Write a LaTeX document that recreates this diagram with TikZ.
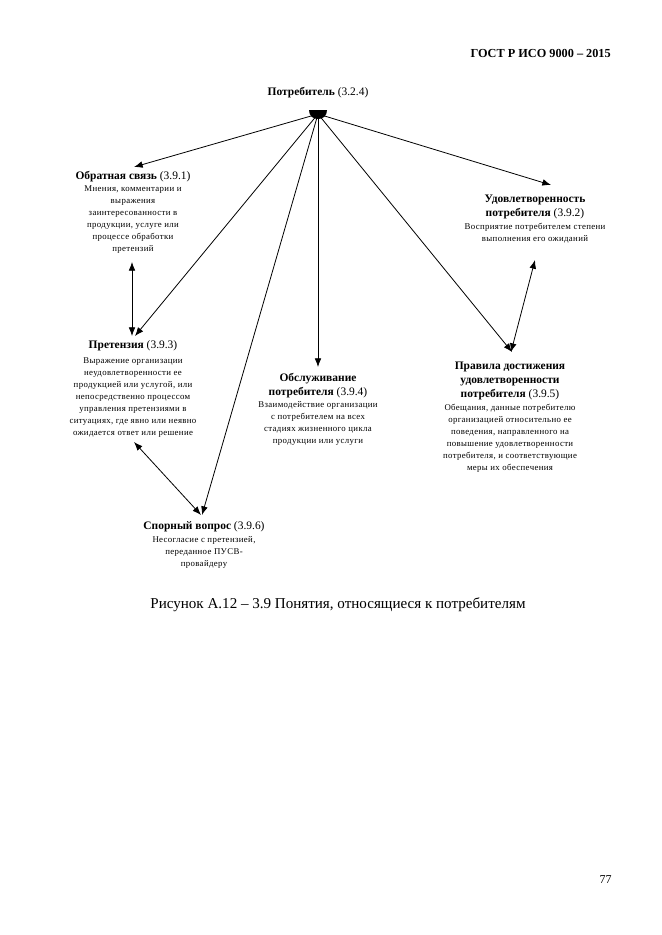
\documentclass[tikz,border=0pt]{standalone}
\usepackage{fontspec}
\setmainfont{Liberation Serif}
\usetikzlibrary{arrows.meta}
\begin{document}
\begin{tikzpicture}[x=0.75pt,y=-0.75pt,
  ttl/.style={anchor=north,inner sep=0,align=center,font=\fontsize{8.6}{10.5}\selectfont},
  dsc/.style={anchor=north,inner sep=0,align=center,font=\fontsize{6.6}{9}\selectfont\addfontfeatures{LetterSpace=4}},
  arr/.style={-{Latex[length=6.5pt,width=5pt]},line width=0.6pt},
  darr/.style={{Latex[length=6.5pt,width=5pt]}-{Latex[length=6.5pt,width=5pt]},line width=0.6pt}]
\fill[white] (0,0) rectangle (661,935);
\useasboundingbox (0,0) rectangle (661,935);

% header, caption, page number
\node[anchor=east,inner sep=0,font=\fontsize{9.2}{11}\selectfont\bfseries] (hdr) at (611,53) {ГОСТ Р ИСО 9000 – 2015};
\node[inner sep=0,font=\fontsize{11.3}{13}\selectfont] (cap) at (338,605) {Рисунок А.12 – 3.9 Понятия, относящиеся к потребителям};
\node[anchor=east,inner sep=0,font=\fontsize{9}{11}\selectfont] (pg) at (612,880) {77};

% concept titles and descriptions
\node[ttl] (t0) at (318,87) {\textbf{Потребитель} (3.2.4)};

\node[ttl] (t1) at (133,171) {\textbf{Обратная связь} (3.9.1)};
\node[dsc] (d1) at (133,185) {Мнения, комментарии и\\выражения\\заинтересованности в\\продукции, услуге или\\процессе обработки\\претензий};

\node[ttl] (t2) at (535,195) {\textbf{Удовлетворенность}\\\textbf{потребителя} (3.9.2)};
\node[dsc] (d2) at (535,223) {Восприятие потребителем степени\\выполнения его ожиданий};

\node[ttl] (t3) at (133,340) {\textbf{Претензия} (3.9.3)};
\node[dsc] (d3) at (133,357) {Выражение организации\\неудовлетворенности ее\\продукцией или услугой, или\\непосредственно процессом\\управления претензиями в\\ситуациях, где явно или неявно\\ожидается ответ или решение};

\node[ttl] (t4) at (318,373) {\textbf{Обслуживание}\\\textbf{потребителя} (3.9.4)};
\node[dsc] (d4) at (318,401) {Взаимодействие организации\\с потребителем на всех\\стадиях жизненного цикла\\продукции или услуги};

\node[ttl] (t5) at (510,362) {\textbf{Правила достижения}\\\textbf{удовлетворенности}\\\textbf{потребителя} (3.9.5)};
\node[dsc] (d5) at (510,404) {Обещания, данные потребителю\\организацией относительно ее\\поведения, направленного на\\повышение удовлетворенности\\потребителя, и соответствующие\\меры их обеспечения};

\node[ttl] (t6) at (204,521) {\textbf{Спорный вопрос} (3.9.6)};
\node[dsc] (d6) at (204,536) {Несогласие с претензией,\\переданное ПУСВ-\\провайдеру};

% connector end points
\coordinate (hub) at (318,114);
\coordinate (e1) at (134,167);
\coordinate (e2) at (551,185);
\coordinate (e3) at (135,336);
\coordinate (e4) at (318,367);
\coordinate (e5) at (512,352);
\coordinate (e6) at (202,515);
\coordinate (f1a) at (132,262);
\coordinate (f1b) at (132,336);
\coordinate (f2a) at (535,260);
\coordinate (f2b) at (511,352);
\coordinate (f3a) at (134,442);
\coordinate (f3b) at (201,515);

\foreach \e in {e1,e2,e3,e4,e5,e6} \draw[arr] (hub) -- (\e);
\draw[darr] (f1a) -- (f1b);
\draw[darr] (f2a) -- (f2b);
\draw[darr] (f3a) -- (f3b);

% hub half disc
\fill (309,110) -- (327,110) .. controls (327,116) and (323,119) .. (318,119) .. controls (313,119) and (309,116) .. (309,110) -- cycle;
\end{tikzpicture}
\end{document}
